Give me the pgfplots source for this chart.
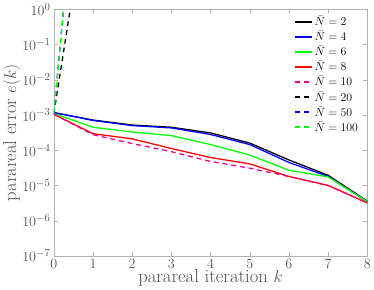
\documentclass[border=0pt]{standalone}
\usepackage{pgfplots}
\pgfplotsset{compat=1.18}
\definecolor{axgray}{gray}{0.15}
\begin{document}
\begin{tikzpicture}
\begin{axis}[
  scale only axis,
  width=319pt, height=251pt,
  xmin=0, xmax=8, ymode=log, ymin=1e-7, ymax=1,
  xtick={0,1,...,8},
  ytick={1e-7,1e-6,1e-5,1e-4,1e-3,1e-2,1e-1,1},
  log basis y=10,
  tick align=inside,
  axis line style={gray!60, line width=0.6pt},
  tick style={gray!60},
  minor y tick num=8,
  ticklabel style={font=\fontsize{15.5}{16}\selectfont, text=axgray!80},
  xlabel={parareal iteration $k$},
  ylabel={parareal error $e(k)$},
  label style={font=\fontsize{19}{20}\selectfont, text=axgray!80},
  xlabel style={yshift=6pt},
  ylabel style={yshift=-5pt},
  legend style={draw=none, fill=none, at={(0.98,0.985)}, anchor=north east,
    font=\fontsize{11.5}{12}\selectfont, inner sep=1pt},
  legend image post style={line width=1.7pt},
  legend cell align=left,
  clip=true,
]
\addplot[draw=black, line width=1.3pt] coordinates {(0,1.17e-3)(1,7.2e-4)(2,5.2e-4)(3,4.5e-4)(4,3.1e-4)(5,1.6e-4)(6,5.3e-5)(7,1.95e-5)(8,3.6e-6)};
\addplot[draw=blue, line width=1.3pt] coordinates {(0,1.17e-3)(1,7.0e-4)(2,5.0e-4)(3,4.3e-4)(4,2.8e-4)(5,1.45e-4)(6,4.5e-5)(7,1.8e-5)(8,3.5e-6)};
\addplot[draw=green, line width=1.3pt] coordinates {(0,1.1e-3)(1,4.5e-4)(2,3.3e-4)(3,2.6e-4)(4,1.45e-4)(5,7.3e-5)(6,2.7e-5)(7,1.75e-5)(8,3.5e-6)};
\addplot[draw=red, line width=1.3pt] coordinates {(0,1.05e-3)(1,2.95e-4)(2,2.1e-4)(3,1.12e-4)(4,6.2e-5)(5,4.1e-5)(6,1.8e-5)(7,1.0e-5)(8,3.2e-6)};
\addplot[draw=magenta, line width=1.3pt, dash pattern=on 5pt off 4pt] coordinates {(0,1.05e-3)(1,2.75e-4)(2,1.55e-4)(3,9.1e-5)(4,4.8e-5)(5,3.1e-5)(6,1.8e-5)(7,1.0e-5)(8,3.2e-6)};
\addplot[draw=black, line width=1.3pt, dash pattern=on 5pt off 4pt] coordinates {(0,1.1e-3)(1,1.3e4)};
\addplot[draw=blue, line width=1.3pt, dash pattern=on 5pt off 4pt] coordinates {(0,1.1e-3)(1,1.0e9)};
\addplot[draw=green, line width=1.3pt, dash pattern=on 5pt off 4pt] coordinates {(0,1.1e-3)(1,1.0e9)};
\legend{$\bar N = 2$,$\bar N = 4$,$\bar N = 6$,$\bar N = 8$,$\bar N = 10$,$\bar N = 20$,$\bar N = 50$,$\bar N = 100$}
\end{axis}
\end{tikzpicture}
\end{document}
